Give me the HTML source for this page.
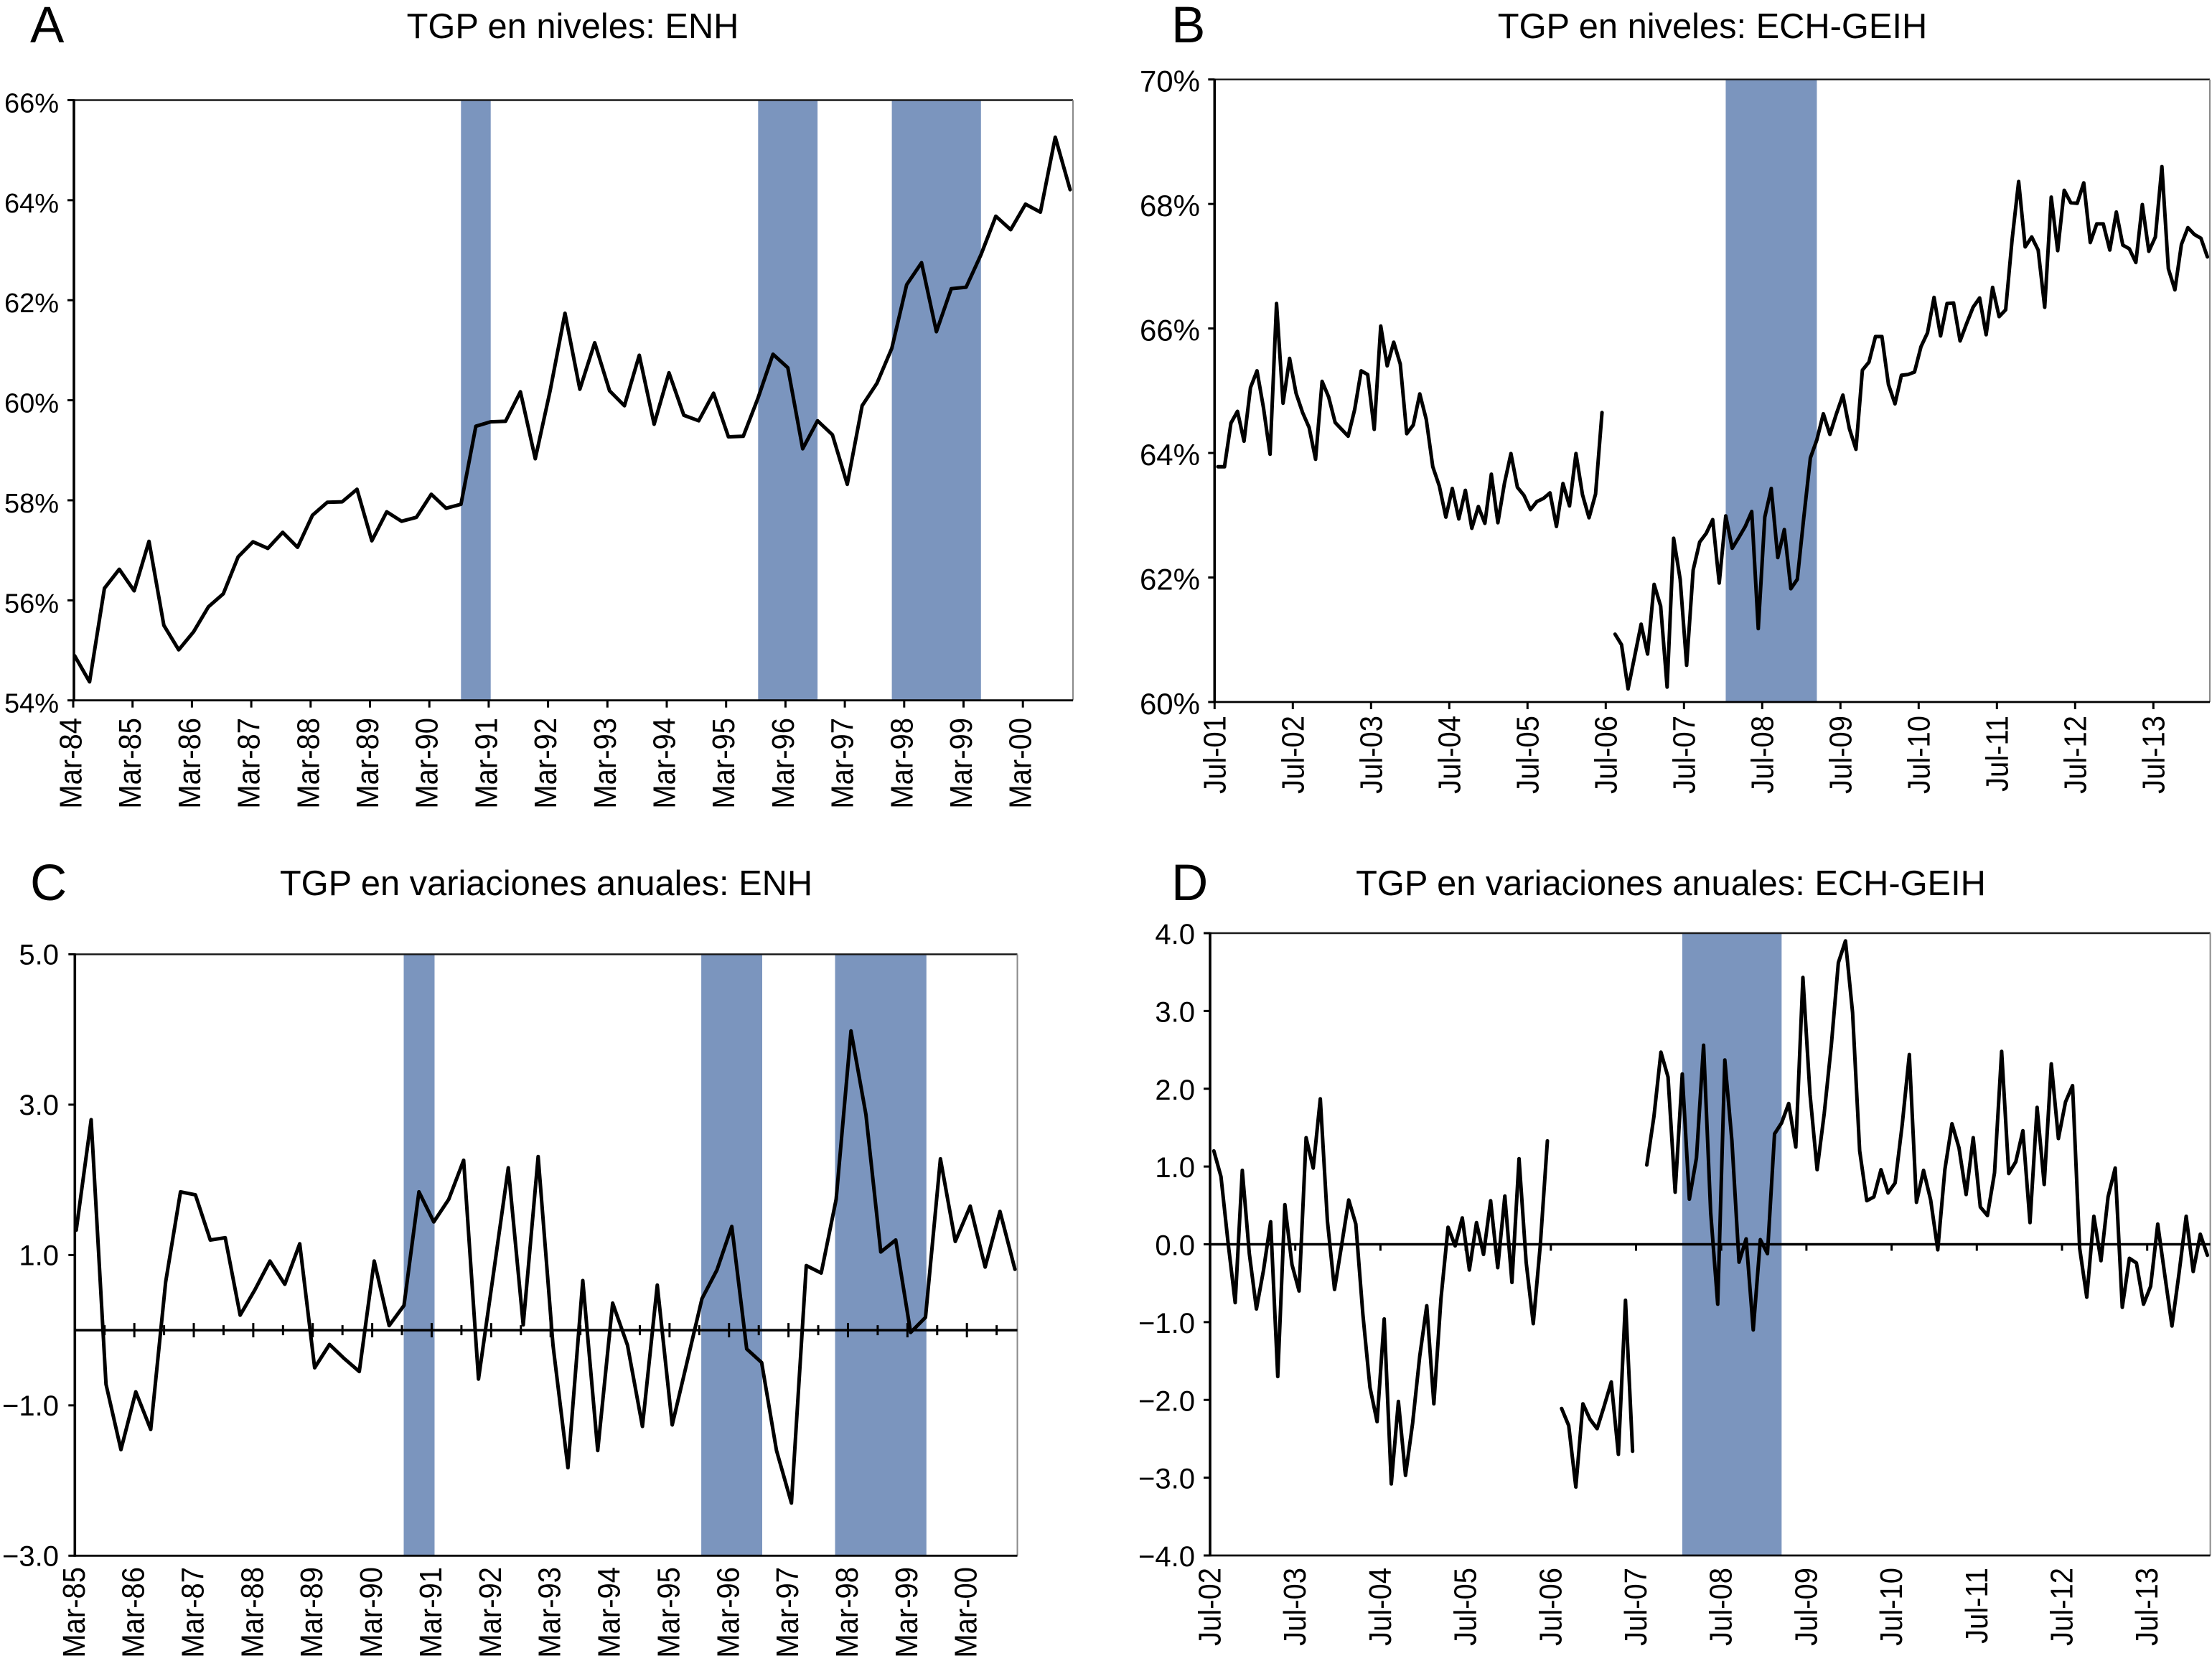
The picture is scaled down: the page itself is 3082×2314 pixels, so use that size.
<!DOCTYPE html>
<html lang="es">
<head>
<meta charset="utf-8">
<title>TGP en niveles y variaciones anuales</title>
<style>
  html, body { margin: 0; padding: 0; background: #ffffff; }
  svg { display: block; font-family: "Liberation Sans", Arial, sans-serif; fill: #000; }
</style>
</head>
<body>
<svg id="figure" xmlns="http://www.w3.org/2000/svg" width="3082" height="2314" viewBox="0 0 3082 2314">
  <rect x="0" y="0" width="3082" height="2314" fill="#ffffff"/>
  <text x="42" y="59" font-size="71">A</text>
  <text x="1632" y="59" font-size="71">B</text>
  <text x="42" y="1254" font-size="71">C</text>
  <text x="1632" y="1254" font-size="71">D</text>
  <text x="798" y="53" font-size="48.8" text-anchor="middle">TGP en niveles: ENH</text>
  <text x="2386" y="53" font-size="48.8" text-anchor="middle">TGP en niveles: ECH-GEIH</text>
  <text x="761" y="1247" font-size="48.8" text-anchor="middle">TGP en variaciones anuales: ENH</text>
  <text x="2328" y="1247" font-size="48.8" text-anchor="middle">TGP en variaciones anuales: ECH-GEIH</text>
</svg>
<script>
// Panel A: quarterly participation rate, ENH
const valuesA = [54.89,54.37,56.24,56.62,56.19,57.18,55.50,55.01,55.37,55.87,56.13,56.87,57.17,57.04,57.36,57.06,57.70,57.96,57.97,58.22,57.19,57.77,57.58,57.66,58.12,57.84,57.92,59.48,59.57,59.58,60.17,58.83,60.19,61.74,60.22,61.15,60.19,59.89,60.90,59.52,60.55,59.70,59.59,60.14,59.27,59.28,60.05,60.92,60.65,59.03,59.59,59.31,58.32,59.89,60.34,61.04,62.31,62.75,61.37,62.23,62.26,62.91,63.68,63.41,63.92,63.76,65.26,64.21];
const xLabelsA = ["Mar-84","Mar-85","Mar-86","Mar-87","Mar-88","Mar-89","Mar-90","Mar-91","Mar-92","Mar-93","Mar-94","Mar-95","Mar-96","Mar-97","Mar-98","Mar-99","Mar-00"];
const yTickValuesA = [54,56,58,60,62,64,66];
const yTickLabelsA = ["54%","56%","58%","60%","62%","64%","66%"];
const bandsA = [[26,28],[46,50],[55,61]];

// Panel B: monthly participation rate, ECH-GEIH
const valuesB = [63.78,63.78,64.48,64.67,64.19,65.05,65.32,64.72,63.98,66.40,64.80,65.52,64.96,64.65,64.41,63.90,65.15,64.90,64.49,64.38,64.27,64.70,65.32,65.26,64.38,66.04,65.40,65.78,65.43,64.31,64.45,64.95,64.54,63.78,63.47,62.97,63.43,62.94,63.40,62.79,63.14,62.87,63.66,62.88,63.51,63.99,63.45,63.32,63.09,63.22,63.27,63.36,62.82,63.51,63.15,63.99,63.33,62.96,63.34,64.65,null,61.09,60.92,60.21,60.73,61.25,60.77,61.89,61.54,60.24,62.63,61.97,60.59,62.12,62.57,62.71,62.93,61.91,62.99,62.47,62.64,62.82,63.06,61.18,62.97,63.43,62.32,62.77,61.82,61.97,62.97,63.92,64.21,64.63,64.30,64.63,64.93,64.39,64.06,65.33,65.46,65.87,65.87,65.10,64.79,65.25,65.26,65.30,65.71,65.93,66.50,65.88,66.40,66.41,65.80,66.08,66.34,66.49,65.90,66.66,66.19,66.30,67.43,68.36,67.31,67.47,67.26,66.34,68.11,67.25,68.22,68.02,68.01,68.34,67.38,67.68,67.68,67.26,67.87,67.34,67.28,67.06,67.99,67.24,67.47,68.60,66.96,66.62,67.35,67.62,67.51,67.45,67.15];
const xLabelsB = ["Jul-01","Jul-02","Jul-03","Jul-04","Jul-05","Jul-06","Jul-07","Jul-08","Jul-09","Jul-10","Jul-11","Jul-12","Jul-13"];
const yTickValuesB = [60,62,64,66,68,70];
const yTickLabelsB = ["60%","62%","64%","66%","68%","70%"];
const bandsB = [[78,92]];

// Panel C: annual change, ENH
const valuesC = [1.33,2.80,-0.72,-1.59,-0.82,-1.32,0.64,1.84,1.80,1.20,1.23,0.20,0.54,0.92,0.61,1.15,-0.50,-0.19,-0.38,-0.55,0.92,0.06,0.33,1.84,1.44,1.74,2.26,-0.65,0.75,2.16,0.07,2.31,-0.20,-1.83,0.66,-1.60,0.36,-0.20,-1.28,0.60,-1.26,-0.42,0.42,0.80,1.38,-0.25,-0.43,-1.60,-2.30,0.86,0.76,1.74,3.98,2.87,1.04,1.20,-0.03,0.17,2.28,1.18,1.65,0.84,1.58,0.81];
const xLabelsC = ["Mar-85","Mar-86","Mar-87","Mar-88","Mar-89","Mar-90","Mar-91","Mar-92","Mar-93","Mar-94","Mar-95","Mar-96","Mar-97","Mar-98","Mar-99","Mar-00"];
const yTickValuesC = [-3,-1,1,3,5];
const yTickLabelsC = ["\u22123.0","\u22121.0","1.0","3.0","5.0"];
const bandsC = [[21.98,24.05],[41.95,46.04],[50.93,57.06]];

// Panel D: annual change, ECH-GEIH
const valuesD = [1.20,0.87,0.02,-0.75,0.95,-0.12,-0.83,-0.33,0.29,-1.70,0.51,-0.26,-0.60,1.37,0.98,1.87,0.30,-0.58,-0.01,0.57,0.26,-0.90,-1.84,-2.28,-0.96,-3.08,-2.02,-2.97,-2.30,-1.44,-0.79,-2.05,-0.70,0.22,-0.02,0.34,-0.33,0.28,-0.13,0.56,-0.30,0.62,-0.49,1.10,-0.23,-1.02,-0.01,1.33,null,-2.11,-2.33,-3.12,-2.05,-2.25,-2.37,-2.08,-1.77,-2.70,-0.72,-2.66,null,1.02,1.64,2.47,2.15,0.67,2.19,0.58,1.11,2.56,0.41,-0.77,2.37,1.33,-0.23,0.07,-1.10,0.06,-0.12,1.42,1.56,1.81,1.25,3.43,1.93,0.96,1.68,2.56,3.62,3.90,2.98,1.20,0.56,0.61,0.96,0.66,0.79,1.54,2.44,0.54,0.95,0.57,-0.07,0.96,1.55,1.24,0.64,1.37,0.48,0.37,0.92,2.48,0.91,1.06,1.46,0.28,1.76,0.77,2.32,1.36,1.83,2.04,-0.05,-0.68,0.36,-0.21,0.61,0.98,-0.81,-0.18,-0.24,-0.77,-0.54,0.26,-0.40,-1.05,-0.37,0.36,-0.35,0.13,-0.14];
const xLabelsD = ["Jul-02","Jul-03","Jul-04","Jul-05","Jul-06","Jul-07","Jul-08","Jul-09","Jul-10","Jul-11","Jul-12","Jul-13"];
const yTickValuesD = [-4,-3,-2,-1,0,1,2,3,4];
const yTickLabelsD = ["\u22124.0","\u22123.0","\u22122.0","\u22121.0","0.0","1.0","2.0","3.0","4.0"];
const bandsD = [[66,80]];

const SVG_NS = "http://www.w3.org/2000/svg";
const figure = document.getElementById("figure");

function make(tag, attrs, parent) {
  const el = document.createElementNS(SVG_NS, tag);
  for (const key in attrs) { el.setAttribute(key, attrs[key]); }
  parent.appendChild(el);
  return el;
}

function drawPanel(p) {
  const yScale = v => p.bottom - (v - p.yMin) / (p.yMax - p.yMin) * (p.bottom - p.top);
  const xScale = i => p.pointStart + i * p.pointStep;
  const tickX = k => p.left + p.tickOffset + k * p.tickStep;

  const group = make("g", {}, figure);
  
  

  // shaded periods
  p.bands.forEach(function (b) {
    const rect = make("rect", {
      x: xScale(b[0]), y: p.top,
      width: xScale(b[1]) - xScale(b[0]), height: p.bottom - p.top,
      fill: "#7b95be"
    }, group);
    
    
  });

  // frame
  const top = make("line", { x1: p.left, x2: p.right, y1: p.top, y2: p.top, stroke: "#1a1a1a", "stroke-width": 2.4 }, group);
  
  
  const right = make("line", { x1: p.right, x2: p.right, y1: p.top, y2: p.bottom, stroke: "#8a8a8a", "stroke-width": 2 }, group);
  
  
  const bottom = make("line", { x1: p.left, x2: p.right, y1: p.bottom, y2: p.bottom, stroke: "#000", "stroke-width": 2.8 }, group);
  
  
  const leftAxis = make("line", { x1: p.left, x2: p.left, y1: p.top - 1.2, y2: p.bottom + 1.4, stroke: "#000", "stroke-width": 3.6 }, group);
  
  

  // y ticks and labels
  p.yTicks.forEach(function (v, i) {
    const y = yScale(v);
    const tick = make("line", { x1: p.left - 9, x2: p.left, y1: y, y2: y, stroke: "#000", "stroke-width": 3 }, group);
    
    
    const label = make("text", { x: p.yLabelRight, y: y + p.yLabelDrop, "font-size": p.yFont, "text-anchor": "end" }, group);
    
    
    label.textContent = p.yLabels[i];
  });

  // zero line
  if (p.zeroLine) {
    const y0 = yScale(0);
    const zero = make("line", { x1: p.left, x2: p.right, y1: y0, y2: y0, stroke: "#000", "stroke-width": 3.4 }, group);
    
    
  }

  // x ticks
  if (p.tickMode === "axis") {
    p.xLabels.forEach(function (_, k) {
      const x = tickX(k);
      const tick = make("line", { x1: x, x2: x, y1: p.bottom, y2: p.bottom + 10, stroke: "#000", "stroke-width": 3 }, group);
      
      
    });
  } else if (p.tickMode === "zero-below") {
    p.xLabels.forEach(function (_, k) {
      if (k === 0) { return; }
      const x = tickX(k);
      const y0 = yScale(0);
      const tick = make("line", { x1: x, x2: x, y1: y0, y2: y0 + 9, stroke: "#000", "stroke-width": 3 }, group);
      
      
    });
  } else if (p.tickMode === "zero-cross") {
    const count = p.xLabels.length * 2;
    for (let k = 1; k < count; k++) {
      const x = p.left + k * p.tickStep / 2;
      const y0 = yScale(0);
      const half = k % 2 === 0 ? 10 : 7;
      const tick = make("line", { x1: x, x2: x, y1: y0 - half, y2: y0 + half, stroke: "#000", "stroke-width": 3 }, group);
      
      
    }
  }

  // x labels
  p.xLabels.forEach(function (text, k) {
    const x = tickX(k) + p.xLabelShift;
    const label = make("text", {
      x: 0, y: 0, "font-size": 40, "text-anchor": "end",
      transform: "translate(" + x + " " + p.xLabelTop + ") rotate(-90) scale(1 1.1)"
    }, group);
    
    
    label.textContent = text;
  });

  // series, broken wherever the value is missing
  let segment = [];
  const flush = function () {
    if (segment.length > 1) {
      const line = make("polyline", {
        points: segment.join(" "), fill: "none", stroke: "#000",
        "stroke-width": 5, "stroke-linejoin": "round", "stroke-linecap": "round"
      }, group);
      
      
    }
    segment = [];
  };
  p.values.forEach(function (v, i) {
    if (v === null) { flush(); return; }
    segment.push(xScale(i).toFixed(1) + "," + yScale(v).toFixed(1));
  });
  flush();
}

drawPanel({
  id: "a", left: 103, right: 1495, top: 139.5, bottom: 975.7, yMin: 54, yMax: 66,
  pointStart: 104.1, pointStep: 20.7, tickOffset: -1, tickStep: 82.7, tickMode: "axis",
  yFont: 38, yLabelRight: 82, yLabelDrop: 17, xLabelShift: 11.5, xLabelTop: 1000,
  values: valuesA, xLabels: xLabelsA, yTicks: yTickValuesA, yLabels: yTickLabelsA, bands: bandsA, zeroLine: false
});
drawPanel({
  id: "b", left: 1692.3, right: 3079, top: 110.7, bottom: 978, yMin: 60, yMax: 70,
  pointStart: 1697, pointStep: 9.07, tickOffset: 0, tickStep: 109, tickMode: "axis",
  yFont: 42, yLabelRight: 1672, yLabelDrop: 17, xLabelShift: 15, xLabelTop: 997,
  values: valuesB, xLabels: xLabelsB, yTicks: yTickValuesB, yLabels: yTickLabelsB, bands: bandsB, zeroLine: false
});
drawPanel({
  id: "c", left: 104.3, right: 1417.5, top: 1329.5, bottom: 2167.3, yMin: -3, yMax: 5,
  pointStart: 106.2, pointStep: 20.76, tickOffset: 0, tickStep: 82.86, tickMode: "zero-cross",
  yFont: 40, yLabelRight: 82, yLabelDrop: 14, xLabelShift: 13.5, xLabelTop: 2183,
  values: valuesC, xLabels: xLabelsC, yTicks: yTickValuesC, yLabels: yTickLabelsC, bands: bandsC, zeroLine: true
});
drawPanel({
  id: "d", left: 1686, right: 3079.6, top: 1300, bottom: 2167, yMin: -4, yMax: 4,
  pointStart: 1691.3, pointStep: 9.888, tickOffset: 0, tickStep: 118.7, tickMode: "zero-below",
  yFont: 40, yLabelRight: 1665, yLabelDrop: 15, xLabelShift: 14.5, xLabelTop: 2184,
  values: valuesD, xLabels: xLabelsD, yTicks: yTickValuesD, yLabels: yTickLabelsD, bands: bandsD, zeroLine: true
});
</script>
</body>
</html>
